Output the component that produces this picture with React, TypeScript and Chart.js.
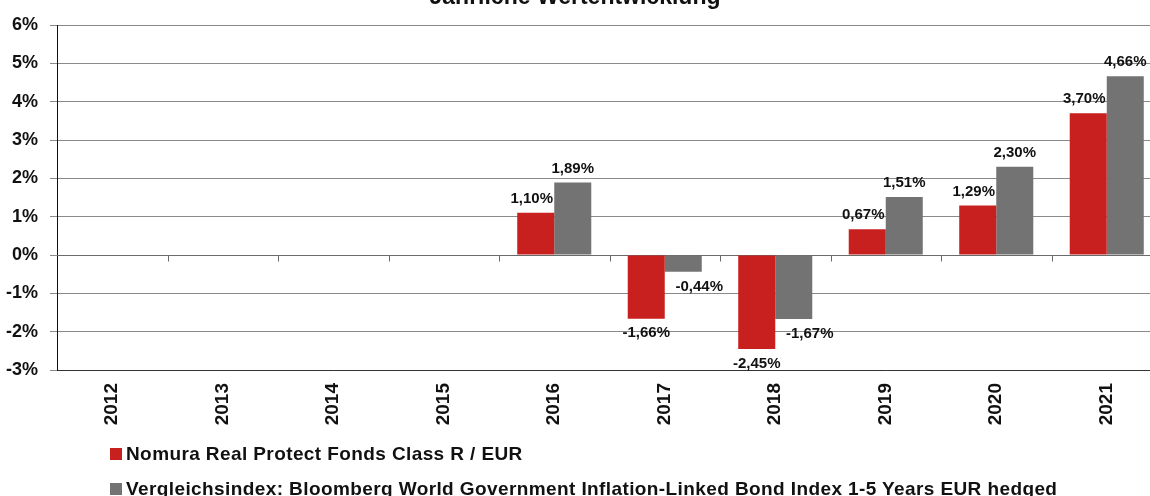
import React, { useEffect, useRef } from 'react';
import { Chart, registerables } from 'chart.js';

Chart.register(...registerables);

const titleText = 'Jährliche Wertentwicklung';
const years = ['2012', '2013', '2014', '2015', '2016', '2017', '2018', '2019', '2020', '2021'];
const fundName = 'Nomura Real Protect Fonds Class R / EUR';
const indexName = 'Vergleichsindex: Bloomberg World Government Inflation-Linked Bond Index 1-5 Years EUR hedged';
const fundValues = [null, null, null, null, 1.10, -1.66, -2.45, 0.67, 1.29, 3.70];
const indexValues = [null, null, null, null, 1.89, -0.44, -1.67, 1.51, 2.30, 4.66];
const yMin = -3;
const yMax = 6;

const RED = '#C8201E';
const GRAY = '#737373';
const FONT = '"Liberation Sans", Arial, sans-serif';

const fmt = (v: number) => v.toFixed(2).replace('.', ',') + '%';

const decorPlugin = {
  id: 'decor',
  beforeDatasetsDraw(chart: any) {
    const { ctx, chartArea, scales } = chart;
    const x = scales.x;
    const y = scales.y;
    const y0 = Math.round(y.getPixelForValue(0)) + 0.5;
    ctx.save();
    ctx.strokeStyle = '#6a6a6a';
    ctx.lineWidth = 1;
    ctx.beginPath();
    ctx.moveTo(chartArea.left, y0);
    ctx.lineTo(chartArea.right, y0);
    const w = (chartArea.right - chartArea.left) / years.length;
    for (let i = 1; i <= years.length; i++) {
      const px = Math.round(chartArea.left + i * w) + 0.5;
      ctx.moveTo(px, y0);
      ctx.lineTo(px, y0 + 6);
    }
    ctx.stroke();
    ctx.restore();
  },
  afterDatasetsDraw(chart: any) {
    const { ctx } = chart;
    ctx.save();
    ctx.font = `bold 15px ${FONT}`;
    ctx.fillStyle = '#111';
    ctx.textAlign = 'center';
    chart.data.datasets.forEach((ds: any, di: number) => {
      const meta = chart.getDatasetMeta(di);
      meta.data.forEach((bar: any, i: number) => {
        const v = ds.data[i];
        if (v === null || v === undefined) return;
        const txt = fmt(v);
        if (v >= 0) {
          ctx.textBaseline = 'alphabetic';
          const dx = di === 0 ? -4 : 0;
          ctx.fillText(txt, bar.x + dx, bar.y - 10);
        } else {
          ctx.textBaseline = 'top';
          const dx = di === 1 ? 16 : 0;
          ctx.fillText(txt, bar.x + dx, bar.y + 7);
        }
      });
    });
    // title (partially above the visible area, as in the reference)
    ctx.font = `bold 23px ${FONT}`;
    ctx.textBaseline = 'alphabetic';
    ctx.fillStyle = '#111';
    ctx.fillText(titleText, 575, 4);
    ctx.restore();
  },
};

export default function App() {
  const ref = useRef<HTMLCanvasElement>(null);
  useEffect(() => {
    if (!ref.current) return;
    const chart = new Chart(ref.current, {
      type: 'bar',
      data: {
        labels: years,
        datasets: [
          { label: fundName, data: fundValues, backgroundColor: RED, categoryPercentage: 0.67, barPercentage: 1.0 },
          { label: indexName, data: indexValues, backgroundColor: GRAY, categoryPercentage: 0.67, barPercentage: 1.0 },
        ],
      },
      options: {
        animation: false,
        responsive: false,
        maintainAspectRatio: false,
        layout: { padding: { top: 25, right: 8, left: 0, bottom: 0 } },
        plugins: {
          legend: { display: false },
          title: { display: false },
          tooltip: { enabled: false },
        },
        scales: {
          x: {
            grid: { display: false, drawTicks: false },
            border: { display: true, color: '#333', width: 1 },
            ticks: {
              maxRotation: 90,
              minRotation: 90,
              padding: 13,
              color: '#111',
              font: { family: FONT, size: 19, weight: 'bold' },
            },
            afterFit(scale: any) { scale.height = 126; },
          },
          y: {
            min: yMin,
            max: yMax,
            grid: {
              color: '#8a8a8a',
              lineWidth: 1,
              drawTicks: true,
              tickLength: 7,
            },
            border: { display: true, color: '#111', width: 1 },
            ticks: {
              stepSize: 1,
              padding: 12,
              color: '#111',
              font: { family: FONT, size: 18, weight: 'bold' },
              callback: (v: any) => v + '%',
            },
            afterFit(scale: any) { scale.width = 57; },
          },
        },
      },
      plugins: [decorPlugin],
    });
    return () => chart.destroy();
  }, []);

  const legendText: React.CSSProperties = {
    fontFamily: FONT,
    fontWeight: 'bold',
    fontSize: 19,
    letterSpacing: '0.4px',
    color: '#111',
    whiteSpace: 'nowrap',
    lineHeight: '20px',
  };
  const sq = (c: string): React.CSSProperties => ({ width: 12, height: 12, background: c, marginRight: 4, flex: 'none' });

  return (
    <div style={{ position: 'absolute', left: 0, top: 0, width: 1170, height: 496, overflow: 'visible' }}>
      <canvas ref={ref} width={1170} height={496} style={{ display: 'block' }} />
      <div style={{ position: 'absolute', left: 110, top: 444, display: 'flex', alignItems: 'center' }}>
        <div style={sq(RED)} />
        <span style={legendText}>{fundName}</span>
      </div>
      <div style={{ position: 'absolute', left: 110, top: 479, display: 'flex', alignItems: 'center' }}>
        <div style={sq(GRAY)} />
        <span style={legendText}>{indexName}</span>
      </div>
    </div>
  );
}
